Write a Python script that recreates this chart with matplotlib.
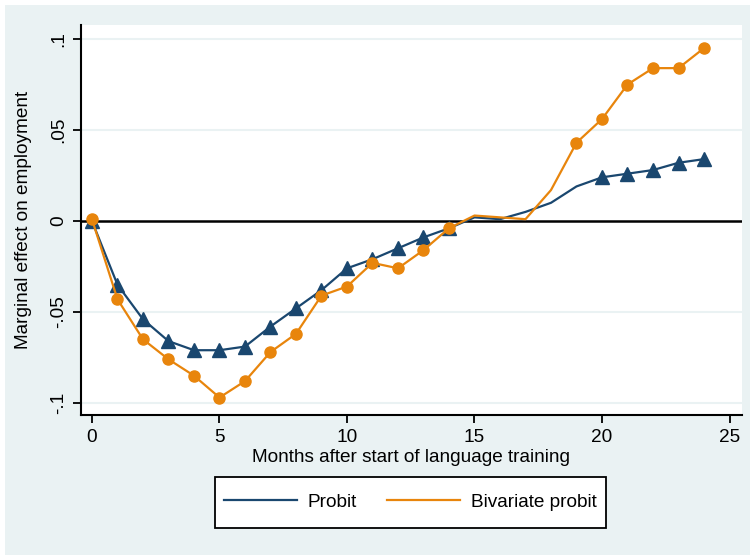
import matplotlib
matplotlib.use("Agg")
import matplotlib.pyplot as plt
from matplotlib.patches import Rectangle

months = list(range(25))
probit = [0.000, -0.035, -0.054, -0.066, -0.071, -0.071, -0.069, -0.058, -0.048, -0.038,
          -0.026, -0.021, -0.015, -0.009, -0.004, 0.002, 0.001, 0.005, 0.010, 0.019,
          0.024, 0.026, 0.028, 0.032, 0.034]
biprobit = [0.001, -0.043, -0.065, -0.076, -0.085, -0.097, -0.088, -0.072, -0.062, -0.041,
            -0.036, -0.023, -0.026, -0.016, -0.004, 0.003, 0.002, 0.001, 0.017, 0.043,
            0.056, 0.075, 0.084, 0.084, 0.095]
probit_marked = [0, 1, 2, 3, 4, 5, 6, 7, 8, 9, 10, 11, 12, 13, 14, 20, 21, 22, 23, 24]
biprobit_marked = [0, 1, 2, 3, 4, 5, 6, 7, 8, 9, 10, 11, 12, 13, 14, 19, 20, 21, 22, 23, 24]
yticks = [-0.1, -0.05, 0, 0.05, 0.1]
ytick_labels = ["-.1", "-.05", "0", ".05", ".1"]
xticks = [0, 5, 10, 15, 20, 25]

plt.rcParams['font.family'] = ['Liberation Sans', 'DejaVu Sans']
NAVY = "#1A476F"
ORANGE = "#E8850C"
BG = "#EAF2F3"
FS = 13.7

W, H = 750, 555
fig = plt.figure(figsize=(7.5, 5.55), dpi=100)
fig.patch.set_facecolor("white")
fig.patches.append(Rectangle((5 / W, 0), 1, 1 - 5 / H, transform=fig.transFigure,
                             facecolor=BG, edgecolor="none", zorder=-10))

ax = fig.add_axes([81 / W, 1 - 415 / H, (742 - 81) / W, (415 - 25) / H])
ax.set_facecolor("white")
ax.set_xlim(-0.43, 25.49)
ax.set_ylim(-0.1066, 0.1077)

for y in [-0.1, -0.05, 0.05, 0.1]:
    ax.axhline(y, color=BG, lw=1.5, zorder=0)
ax.axhline(0, color="black", lw=1.8, zorder=1)

ax.plot(months, probit, color=NAVY, lw=1.6, marker="^", markersize=9.5,
        markevery=probit_marked, label="Probit", zorder=3)
ax.plot(months, biprobit, color=ORANGE, lw=1.6, marker="o", markersize=8,
        markevery=biprobit_marked, label="Bivariate probit", zorder=4)

for s in ["top", "right"]:
    ax.spines[s].set_visible(False)
for s in ["left", "bottom"]:
    ax.spines[s].set_linewidth(1.5)
    ax.spines[s].set_color("black")

ax.set_xticks(xticks)
ax.set_yticks(yticks)
ax.set_yticklabels(ytick_labels, rotation=90, va="center")
ax.tick_params(axis="both", direction="out", length=6, width=1.3, labelsize=FS, pad=4)
ax.set_xlabel("Months after start of language training", fontsize=FS, va="center")
ax.xaxis.set_label_coords(0.5, (415 - 457) / 390)
ax.set_ylabel("Marginal effect on employment", fontsize=FS, va="center")
ax.yaxis.set_label_coords((24 - 81) / 661, 0.5)

# legend box drawn separately to match the reference frame
fig.patches.append(Rectangle((215 / W, 1 - 528 / H), (606 - 215) / W, (528 - 477) / H,
                             transform=fig.transFigure, facecolor="white",
                             edgecolor="black", lw=1.3, zorder=5))
leg = fig.legend(*ax.get_legend_handles_labels(), loc="center",
                 bbox_to_anchor=(410.5 / W, 1 - 502.5 / H), ncol=2, frameon=False,
                 fontsize=FS, handlelength=3.8, columnspacing=1.6, handletextpad=0.58,
                 borderpad=0.3)
leg.set_zorder(6)
for h in leg.legend_handles:
    h.set_marker("")

fig.savefig("out.png", dpi=100, facecolor=fig.get_facecolor())
